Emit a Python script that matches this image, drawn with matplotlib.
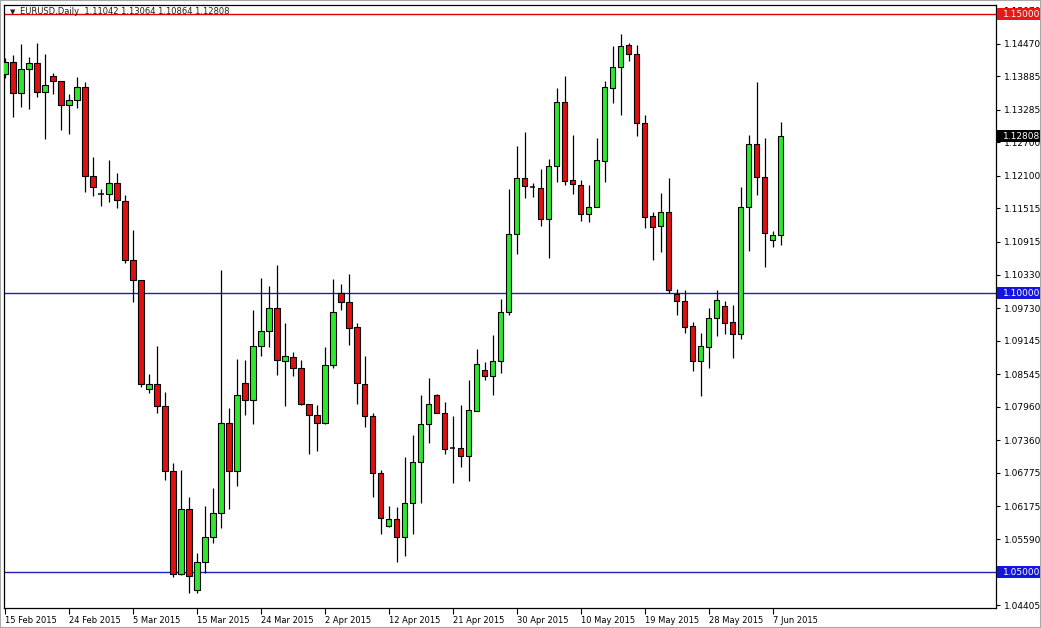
import matplotlib
matplotlib.use("Agg")
import matplotlib.pyplot as plt
from matplotlib.transforms import blended_transform_factory
from matplotlib.patches import Rectangle
import numpy as np

# ---------------- data ----------------
symbol = "EURUSD,Daily"

opens = [1.13919, 1.14134, 1.13579, 1.14009, 1.14117, 1.13597, 1.13884, 1.13794, 1.13364, 1.13453,
         1.13686, 1.12091, 1.11782, 1.11769, 1.11966, 1.11643, 1.10586, 1.10228, 1.08274, 1.08364,
         1.07970, 1.06805, 1.04959, 1.06124, 1.04678, 1.05185, 1.05622, 1.06052, 1.07665, 1.06815,
         1.08382, 1.08074, 1.09045, 1.09319, 1.09726, 1.08776, 1.08848, 1.08656, 1.08005, 1.07808,
         1.07665, 1.08704, 1.09995, 1.09833, 1.09385, 1.08364, 1.07790, 1.06769, 1.05830, 1.05944,
         1.05622, 1.06231, 1.06966, 1.07652, 1.08167, 1.07844, 1.07230, 1.07228, 1.07073, 1.07885,
         1.08620, 1.08518, 1.08776, 1.09660, 1.11057, 1.12056, 1.11905, 1.11876, 1.11321, 1.12276,
         1.13418, 1.12020, 1.11936, 1.11410, 1.11536, 1.12360, 1.13668, 1.14045, 1.14444, 1.14278,
         1.13041, 1.11375, 1.11195, 1.11446, 1.09982, 1.09857, 1.09409, 1.08787, 1.09038, 1.09547,
         1.09762, 1.09475, 1.09260, 1.11536, 1.12665, 1.12074, 1.10945, 1.11042]
highs = [1.14206, 1.14265, 1.14462, 1.14224, 1.14475, 1.14283, 1.13937, 1.13800, 1.13561, 1.13866,
         1.13776, 1.12432, 1.11858, 1.12378, 1.12145, 1.11751, 1.11129, 1.10240, 1.08543, 1.09050,
         1.08221, 1.06948, 1.06828, 1.06339, 1.05335, 1.06183, 1.06500, 1.10412, 1.07944, 1.08817,
         1.08799, 1.09695, 1.10264, 1.10126, 1.10502, 1.09462, 1.08937, 1.08794, 1.08010, 1.07987,
         1.09027, 1.10251, 1.10161, 1.10341, 1.09457, 1.08871, 1.07844, 1.06823, 1.06183, 1.06160,
         1.07066, 1.07455, 1.08172, 1.08482, 1.08185, 1.08041, 1.07796, 1.07993, 1.08441, 1.08996,
         1.08758, 1.09247, 1.09893, 1.11858, 1.12640, 1.12885, 1.11971, 1.12217, 1.12396, 1.13674,
         1.13889, 1.12832, 1.12020, 1.11930, 1.12778, 1.13799, 1.14427, 1.14642, 1.14475, 1.14444,
         1.13199, 1.11443, 1.11792, 1.12066, 1.10066, 1.10054, 1.09486, 1.09278, 1.09737, 1.10054,
         1.09862, 1.09785, 1.11900, 1.12826, 1.13781, 1.12778, 1.11111, 1.13064]
lows = [1.13858, 1.13160, 1.13339, 1.13303, 1.13518, 1.12755, 1.13561, 1.12916, 1.12844, 1.13321,
        1.11805, 1.11738, 1.11565, 1.11636, 1.11518, 1.10532, 1.09844, 1.08321, 1.08203, 1.07844,
        1.06643, 1.04916, 1.04950, 1.04618, 1.04629, 1.04977, 1.05514, 1.05783, 1.06124, 1.06547,
        1.07814, 1.07661, 1.08871, 1.09038, 1.08536, 1.07980, 1.08518, 1.08000, 1.07109, 1.07168,
        1.07652, 1.08651, 1.09695, 1.09074, 1.08016, 1.07593, 1.06350, 1.05676, 1.05801, 1.05185,
        1.05292, 1.05687, 1.06231, 1.07317, 1.07844, 1.07109, 1.06590, 1.06887, 1.06636, 1.07885,
        1.08441, 1.08177, 1.08572, 1.09606, 1.10694, 1.11708, 1.11726, 1.11201, 1.10633, 1.11995,
        1.11936, 1.11769, 1.11296, 1.11272, 1.11536, 1.11995, 1.13400, 1.13195, 1.14163, 1.12819,
        1.11160, 1.10591, 1.10740, 1.10005, 1.09611, 1.09289, 1.08608, 1.08160, 1.08651, 1.09229,
        1.09265, 1.08841, 1.09170, 1.10758, 1.11762, 1.10471, 1.10819, 1.10864]
closes = [1.14134, 1.13579, 1.14009, 1.14117, 1.13597, 1.13722, 1.13794, 1.13364, 1.13453, 1.13686,
          1.12091, 1.11894, 1.11780, 1.11966, 1.11661, 1.10586, 1.10228, 1.08364, 1.08364, 1.07970,
          1.06805, 1.04959, 1.06124, 1.04928, 1.05185, 1.05622, 1.06052, 1.07665, 1.06815, 1.08167,
          1.08074, 1.09045, 1.09319, 1.09726, 1.08794, 1.08866, 1.08651, 1.08005, 1.07808, 1.07665,
          1.08704, 1.09654, 1.09833, 1.09367, 1.08382, 1.07790, 1.06769, 1.05962, 1.05944, 1.05622,
          1.06231, 1.06966, 1.07652, 1.08005, 1.07844, 1.07210, 1.07228, 1.07073, 1.07898, 1.08722,
          1.08518, 1.08776, 1.09660, 1.11057, 1.12061, 1.11912, 1.11905, 1.11321, 1.12276, 1.13418,
          1.12013, 1.11959, 1.11410, 1.11536, 1.12384, 1.13686, 1.14045, 1.14427, 1.14278, 1.13041,
          1.11371, 1.11192, 1.11446, 1.10054, 1.09857, 1.09396, 1.08787, 1.09050, 1.09547, 1.09875,
          1.09468, 1.09260, 1.11536, 1.12665, 1.12074, 1.11070, 1.11034, 1.12808]

date_labels = ["15 Feb 2015", "24 Feb 2015", "5 Mar 2015", "15 Mar 2015", "24 Mar 2015",
               "2 Apr 2015", "12 Apr 2015", "21 Apr 2015", "30 Apr 2015", "10 May 2015",
               "19 May 2015", "28 May 2015", "7 Jun 2015"]
date_bar_index = [0, 8, 16, 24, 32, 40, 48, 56, 64, 72, 80, 88, 96]

price_ticks = [1.04405, 1.05000, 1.05590, 1.06175, 1.06775, 1.07360, 1.07960, 1.08545,
               1.09145, 1.09730, 1.10330, 1.10915, 1.11515, 1.12100, 1.12700, 1.13285,
               1.13885, 1.14470, 1.15070]

level_prices = [1.15000, 1.10000, 1.05000]
level_colors = ["#e00000", "#2020b8", "#2020b8"]
level_box_colors = ["#e81818", "#1414e0", "#1414e0"]

# ---------------- figure ----------------
W, H = 1041, 628
fig = plt.figure(figsize=(W / 100, H / 100), dpi=100)
fig.patch.set_facecolor("white")
ax = fig.add_axes([3.5 / W, 1 - 608 / H, (996 - 3.5) / W, (608 - 4.7) / H])
ax.set_facecolor("white")

o = np.array(opens); h = np.array(highs); l = np.array(lows); c = np.array(closes)
x = np.arange(len(o))

# horizontal levels
for p, col in zip(level_prices, level_colors):
    ax.axhline(p, color=col, lw=1.0, zorder=1)

# wicks
ax.vlines(x, l, h, color="black", lw=0.9, zorder=2)

# bodies
body_w = 0.64
doji = np.abs(c - o) < 0.00004
up = c > o
for xi, oi, ci, is_up, is_doji in zip(x, o, c, up, doji):
    if is_doji:
        ax.hlines(oi, xi - body_w / 2, xi + body_w / 2, color="black", lw=1.1, zorder=3)
    else:
        ax.bar(xi, abs(ci - oi), bottom=min(oi, ci), width=body_w,
               color="#2ee82e" if is_up else "#e01010",
               edgecolor="black", linewidth=0.8, zorder=3)

ax.set_xlim(-0.19, 123.9)
ax.set_ylim(1.04355, 1.15167)

# axes styling
for s in ax.spines.values():
    s.set_color("black")
    s.set_linewidth(0.9)

ax.yaxis.tick_right()
ax.set_yticks(price_ticks)
ax.set_yticklabels([f"{v:.5f}" for v in price_ticks])
ax.tick_params(axis="y", length=3, width=0.8, pad=3, labelsize=6.5, colors="black")

ax.set_xticks(date_bar_index)
ax.set_xticklabels(date_labels, ha="left")
ax.tick_params(axis="x", length=4, width=0.8, pad=1.5, labelsize=6.0, colors="black")

# price boxes on the right scale
trans = blended_transform_factory(ax.transAxes, ax.transData)
box_h = 12 * (1.15167 - 1.04355) / 603.3
box_x0 = 1.0 + 1.0 / 992.5
box_w = 43 / 992.5
text_x = 1.0 + 6.5 / 992.5

def price_box(price, face):
    ax.add_patch(Rectangle((box_x0, price - box_h / 2), box_w, box_h, transform=trans,
                           facecolor=face, edgecolor="none", clip_on=False, zorder=5))
    ax.text(text_x, price, f"{price:.5f}", transform=trans, color="white", fontsize=6.5,
            va="center", ha="left", clip_on=False, zorder=6)

for p, bc in zip(level_prices, level_box_colors):
    price_box(p, bc)
price_box(closes[-1], "black")

# header
fig.text(10 / W, 1 - 12 / H, "\u25bc", fontsize=5, color="#202020", va="center", ha="left")
fig.text(20 / W, 1 - 12 / H,
         f"{symbol}  {opens[-1]:.5f} {highs[-1]:.5f} {lows[-1]:.5f} {closes[-1]:.5f}",
         fontsize=6.0, color="#202020", va="center", ha="left")

# outer frame
fig.add_artist(Rectangle((0, 0), 1, 1, transform=fig.transFigure, fill=False,
                         edgecolor="#a8a8a8", lw=1.5))

fig.savefig("out.png", dpi=100, facecolor="white")
